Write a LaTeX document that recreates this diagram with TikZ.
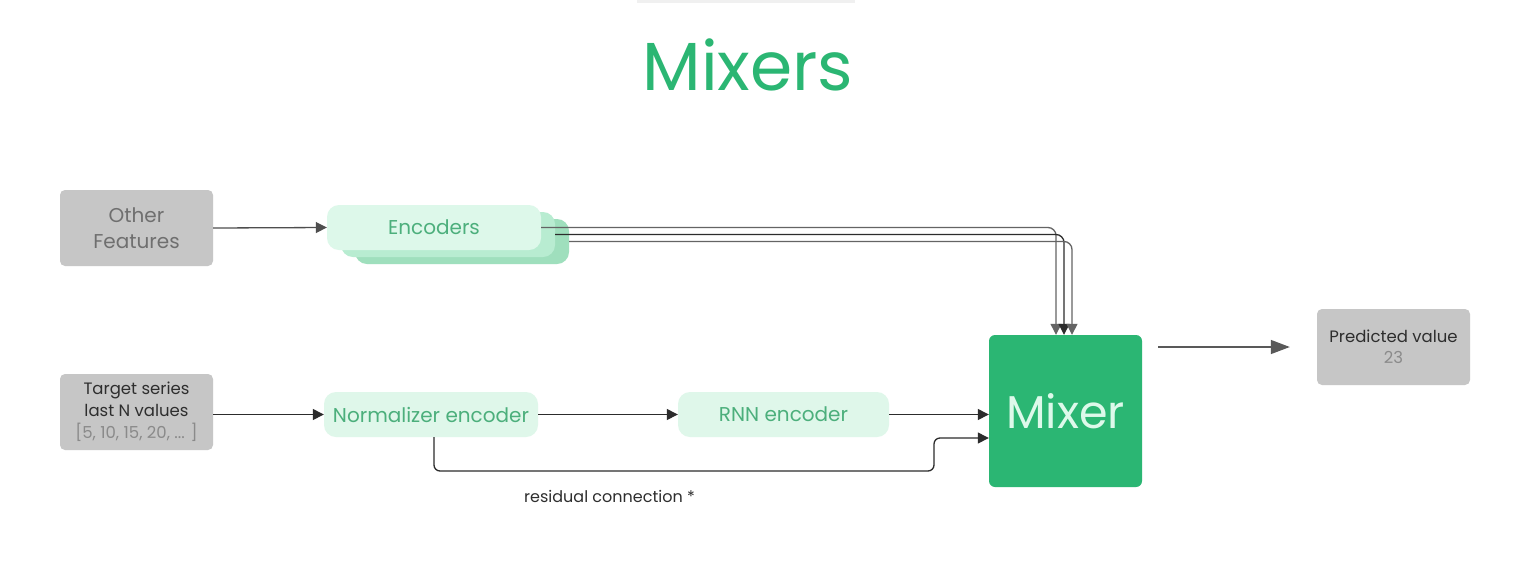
\documentclass[tikz,border=0pt]{standalone}
\usepackage{fontspec}
\setmainfont{Poppins}
\usetikzlibrary{arrows.meta,calc}
\definecolor{mgreen}{HTML}{2BB673}
\definecolor{tgreen}{HTML}{4CAF7C}
\definecolor{mint1}{HTML}{DDF8EA}
\definecolor{mint2}{HTML}{B8ECD1}
\definecolor{mint3}{HTML}{9FDFBD}
\definecolor{lmint}{HTML}{DFF7EA}
\definecolor{boxgray}{HTML}{C6C6C6}
\definecolor{txtgray}{HTML}{6F6F6F}
\definecolor{txtdark}{HTML}{2E2E2E}
\definecolor{txtlight}{HTML}{8A8A8A}
\definecolor{linec}{HTML}{2C2C2C}
\definecolor{mixtxt}{HTML}{DDF9EA}
\begin{document}
\begin{tikzpicture}[x=1pt,y=-1pt,
  graybox/.style={fill=boxgray, rounded corners=5pt, minimum width=153pt, align=center, inner sep=0pt},
  encbox/.style={rounded corners=12pt, minimum width=214pt, minimum height=45pt, inner sep=0pt},
  stepbox/.style={fill=lmint, rounded corners=12pt, minimum height=45pt, inner sep=0pt, text=tgreen, font=\fontsize{20}{24}\selectfont},
  conn/.style={draw=linec, line width=1.3pt, -{Triangle[length=11pt,width=11pt]}},
  outconn/.style={draw=txtgray!80!black, line width=1.4pt, -{Triangle[length=19pt,width=14pt]}}
]
\useasboundingbox[fill=white] (0,0) rectangle (1531,571);
\fill[black!6] (637,0) rectangle (855,3);

\node[text=mgreen, font=\fontsize{68}{80}\selectfont, anchor=base] (title) at (748,90) {Mixers};

\node[graybox, minimum height=76pt, text=txtgray, font=\fontsize{20}{26}\selectfont] (of) at (136.5,228) {Other\\Features};

\node[encbox, fill=mint3] (enc3) at (462,241.5) {};
\node[encbox, fill=mint2] (enc2) at (448,234.5) {};
\node[encbox, fill=mint1, text=tgreen, font=\fontsize{20}{24}\selectfont] (enc1) at (434,227.5) {Encoders\hspace{12pt}};

\node[graybox, minimum height=76pt, font=\fontsize{16.5}{22}\selectfont] (tgt) at (136.5,412) {\color{txtdark}Target series\\\color{txtdark}last N values\\\color{txtlight}[5, 10, 15, 20, ... ]};

\node[stepbox, minimum width=214pt] (norm) at (431,414.5) {Normalizer encoder};
\node[stepbox, minimum width=211pt] (rnn) at (783.5,414.5) {RNN encoder};

\node[fill=mgreen, rounded corners=6pt, minimum width=153pt, minimum height=152pt, inner sep=0pt, text=mixtxt, font=\fontsize{46}{52}\selectfont] (mixer) at (1065.5,411) {Mixer};

\node[graybox, minimum height=76pt, font=\fontsize{16.5}{21}\selectfont] (pred) at (1393.5,347) {\color{txtdark}Predicted value\\\color{txtlight}23};

\node[anchor=base west, inner sep=0pt, text=txtdark, font=\fontsize{16}{20}\selectfont] (reslab) at (524,502) {residual connection *};

\draw[conn, draw=txtgray!70!black] (of.east) -- (enc1.west);
\draw[conn, rounded corners=8pt, draw=txtgray!90!black] (enc1.east) -| ([xshift=-9.5pt]mixer.north);
\draw[conn, rounded corners=8pt] (enc2.east) -| ([xshift=-1.5pt]mixer.north);
\draw[conn, rounded corners=8pt, draw=txtgray!90!black] (enc3.east) -| ([xshift=6.5pt]mixer.north);

\draw[conn] (tgt.east |- norm) -- (norm.west);
\draw[conn] (norm.east) -- (rnn.west);
\draw[conn] (rnn.east) -- (mixer.west |- rnn);
\coordinate (resin) at (0,438);
\draw[conn, rounded corners=6pt] ([xshift=3pt]norm.south) |- (934,471) |- (mixer.west |- resin);

\draw[outconn] ([xshift=16pt]mixer.east |- pred) -- ([xshift=-27pt]pred.west);
\end{tikzpicture}
\end{document}
